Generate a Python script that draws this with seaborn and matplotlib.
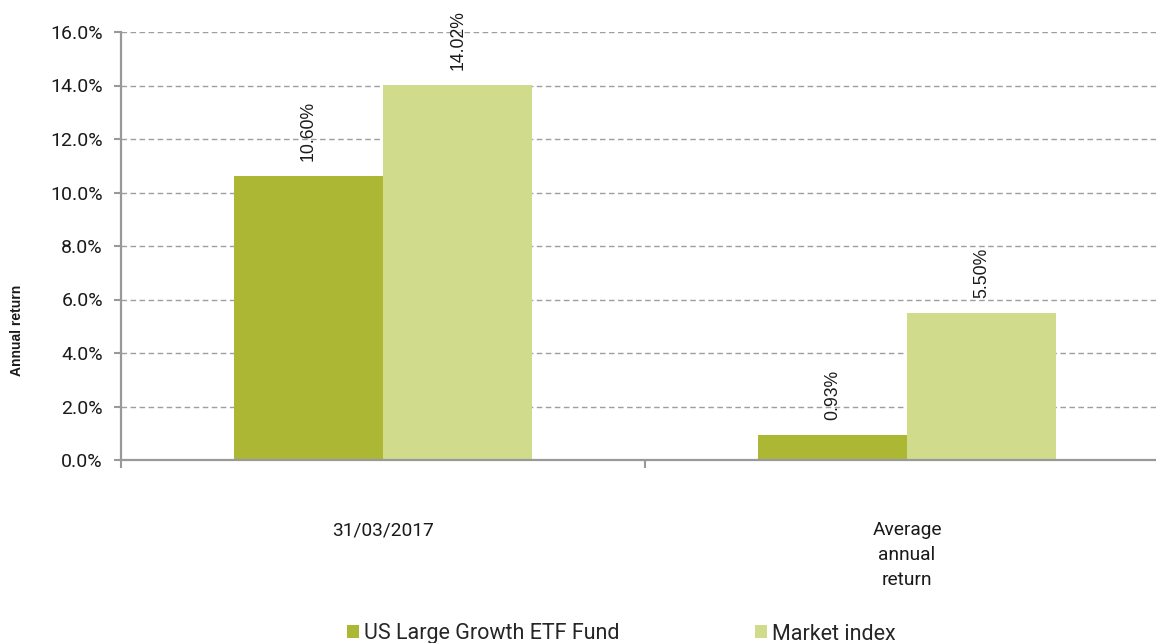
import matplotlib
matplotlib.use("Agg")
import matplotlib.pyplot as plt
import seaborn as sns
import pandas as pd
from matplotlib.patches import Patch
from matplotlib.ticker import FuncFormatter

# data
categories = ["31/03/2017", "Average\nannual\nreturn"]
series = ["US Large Growth ETF Fund", "Market index"]
fund_values = [10.60, 0.93]
index_values = [14.02, 5.50]
colors = ["#acb734", "#d0dc8c"]

df = pd.DataFrame({
    "category": categories * 2,
    "series": [series[0]] * 2 + [series[1]] * 2,
    "value": fund_values + index_values,
})

sns.set_style("white")
plt.rcParams["font.family"] = ["Roboto", "DejaVu Sans"]

fig = plt.figure(figsize=(11.56, 6.43), dpi=100)
ax = fig.add_axes([121 / 1156, 1 - 460 / 643, (1169 - 121) / 1156, (460 - 32) / 643])

sns.barplot(data=df, x="category", y="value", hue="series", palette=colors,
            width=0.57, saturation=1, legend=False, ax=ax, zorder=3, linewidth=0)

# value labels
for cont in ax.containers:
    for bar in cont:
        h = bar.get_height()
        ax.annotate(f"{h:.2f}%", (bar.get_x() + bar.get_width() / 2, h),
                    xytext=(0, 11), textcoords="offset points",
                    rotation=90, ha="center", va="bottom",
                    fontsize=12.7, family=["Liberation Sans"], color="#1a1a1a")

ax.set_ylim(0, 16)
ax.set_xlim(-0.5, 1.5)
ax.set_yticks(range(0, 17, 2))
ax.yaxis.set_major_formatter(FuncFormatter(lambda v, p: f"{v:.1f}%"))
ax.tick_params(axis="y", labelsize=14, length=5, width=1.5, color="#999999",
               labelcolor="#1a1a1a", pad=8, left=True)

# category boundaries as major ticks, category names as minor tick labels
ax.set_xticks([-0.5, 0.5, 1.5])
ax.set_xticklabels(["", "", ""])
ax.set_xticks([0, 1], minor=True)
ax.set_xticklabels(categories, minor=True, fontsize=13.8, color="#1a1a1a",
                   linespacing=1.5)
ax.tick_params(axis="x", which="major", length=6, width=1.5, color="#999999", bottom=True)
ax.tick_params(axis="x", which="minor", length=0, pad=44)
ax.set_xlabel("")
ax.set_ylabel("")

ax.grid(axis="y", color="#9e9e9e", linestyle=(0, (4, 2.5)), linewidth=1.0, zorder=0)
for s in ["top", "right"]:
    ax.spines[s].set_visible(False)
for s in ["left", "bottom"]:
    ax.spines[s].set_color("#999999")
    ax.spines[s].set_linewidth(1.6)
    ax.spines[s].set_zorder(4)

fig.text(17 / 1156, 1 - 330 / 643, "Annual return", rotation=90, ha="center", va="center",
         fontsize=10, fontweight="bold", family=["Liberation Sans"], color="#1a1a1a")

handles = [Patch(facecolor=c, edgecolor="none") for c in colors]
fig.legend(handles, series, loc="center left", bbox_to_anchor=(347 / 1156, 1 - 634 / 643),
           ncol=2, frameon=False, fontsize=15.5, handlelength=0.56, handleheight=0.56,
           handletextpad=0.23, columnspacing=6.3, borderpad=0, borderaxespad=0)

fig.savefig("out.png", dpi=100)
plt.close(fig)
